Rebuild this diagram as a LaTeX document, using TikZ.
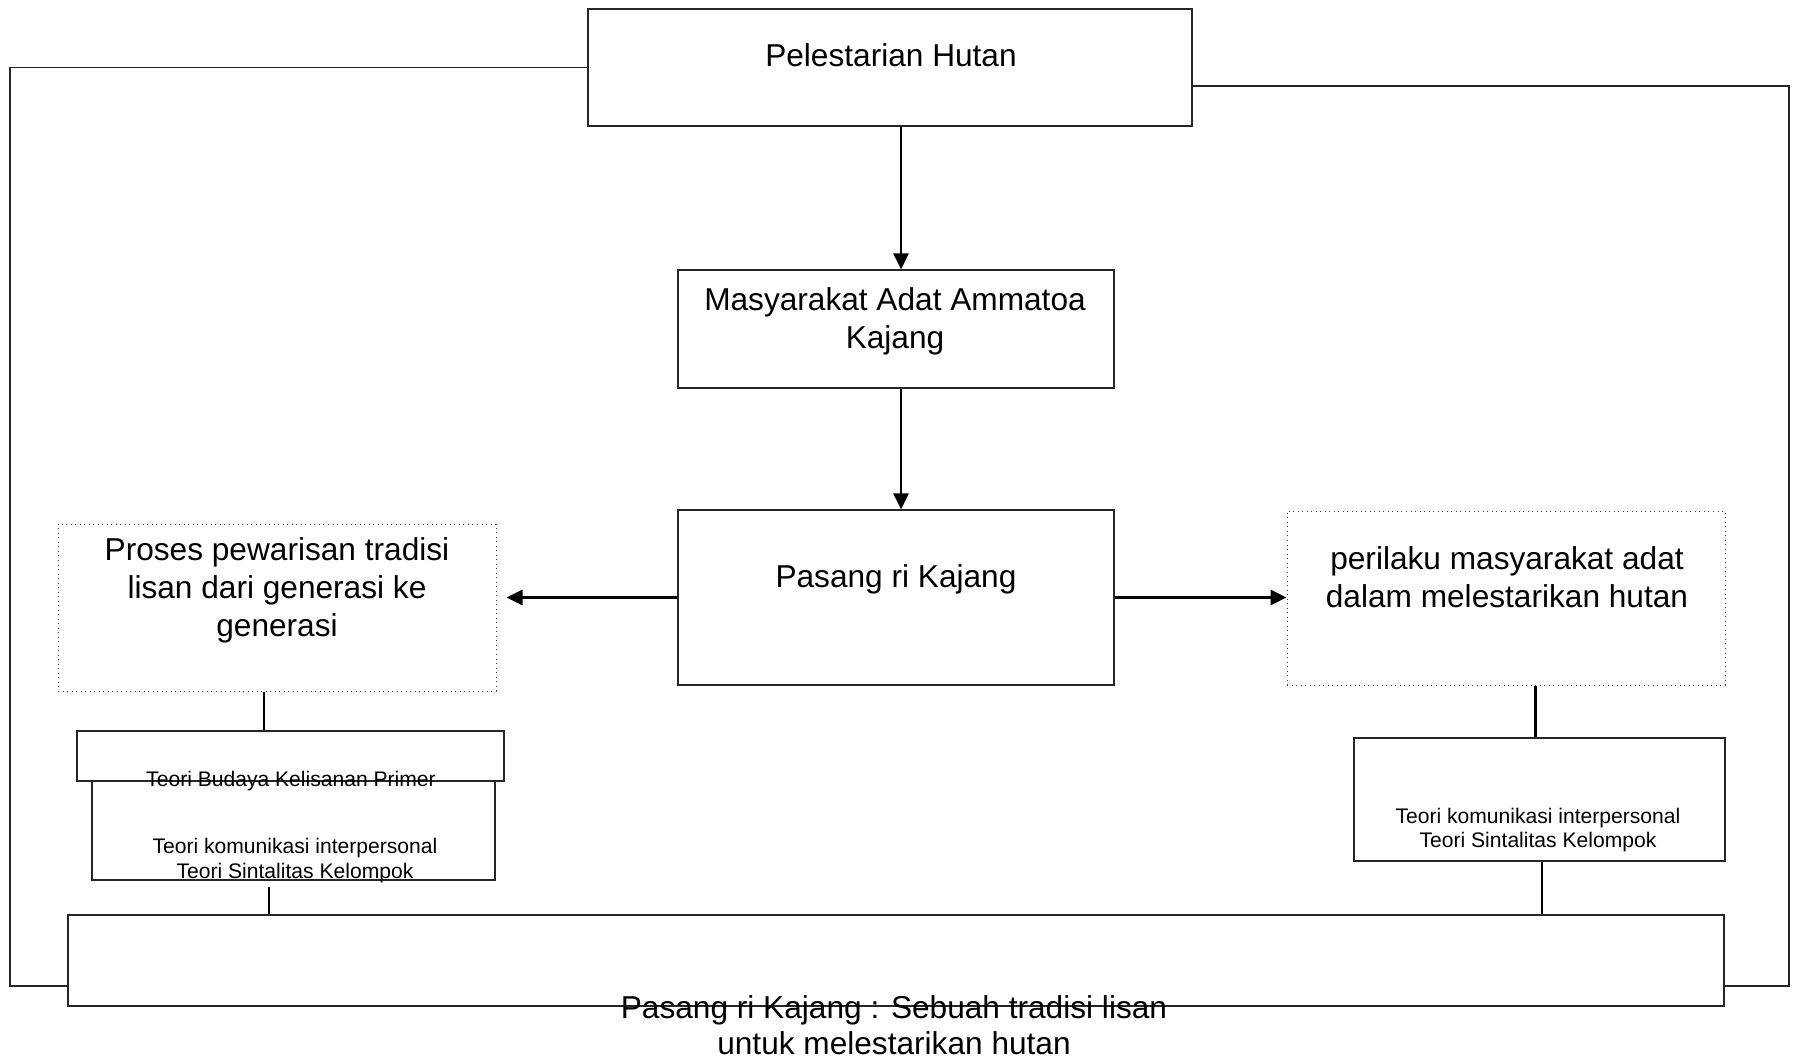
\documentclass[tikz,border=0pt]{standalone}
\usepackage{fontspec}
\setmainfont{Liberation Sans}
\usetikzlibrary{arrows.meta}

\begin{document}
\begin{tikzpicture}[
    x=0.1mm,
    y=-0.1mm,
    kotak/.style={draw=black!85,line width=0.12mm,inner sep=0pt},
    kotaktitik/.style={draw=black!75,line width=0.1mm,densely dotted,inner sep=0pt},
    teks/.style={align=center,inner sep=0pt,font=\fontsize{9}{10.8}\selectfont},
    tekskecil/.style={align=center,inner sep=0pt,font=\fontsize{6}{6.9}\selectfont},
    panah/.style={line width=0.28mm,-{Triangle[length=1.6mm,width=1.5mm]}},
    garis/.style={line width=0.28mm},
    bingkai/.style={draw=black!85,line width=0.12mm}
]
    \useasboundingbox (0,0) rectangle (1796,1060);
    \node[kotak,minimum width=60.4mm,minimum height=11.7mm] (hutan) at (890,67.5) {};
    \node[kotak,minimum width=43.6mm,minimum height=11.8mm] (masyarakat) at (896,329) {};
    \node[kotak,minimum width=43.6mm,minimum height=17.5mm] (pasang) at (896,597.5) {};
    \node[kotaktitik,minimum width=43.8mm,minimum height=16.7mm] (proses) at (277,607.5) {};
    \node[kotaktitik,minimum width=43.8mm,minimum height=17.4mm] (perilaku) at (1506,598) {};
    \node[kotak,minimum width=42.7mm,minimum height=5mm] (budaya) at (290.5,756) {};
    \node[kotak,minimum width=40.3mm,minimum height=9.9mm] (teorikiri) at (293.5,830.5) {};
    \node[kotak,minimum width=37.1mm,minimum height=12.3mm] (teorikanan) at (1539.5,799.5) {};
    \node[kotak,minimum width=165.6mm,minimum height=9.1mm] (bawah) at (896,960.5) {};

    \node[teks] (thutan) at (891,55) {Pelestarian Hutan};
    \node[teks] (tmasyarakat) at (895,321.5) {Masyarakat Adat Ammatoa\\Kajang};
    \node[teks] (tpasang) at (896,579.5) {Pasang ri Kajang};
    \node[teks] (tproses) at (277,590.5) {Proses pewarisan tradisi\\lisan dari generasi ke\\generasi};
    \node[teks] (tperilaku) at (1507,577) {perilaku masyarakat adat\\dalam melestarikan hutan};
    \node[tekskecil] (tbudaya) at (291,781) {Teori Budaya Kelisanan Primer};
    \node[tekskecil] (tteorikiri) at (295,860.5) {Teori komunikasi interpersonal\\Teori Sintalitas Kelompok};
    \node[tekskecil] (tteorikanan) at (1538,830) {Teori komunikasi interpersonal\\Teori Sintalitas Kelompok};
    \node[teks,font=\fontsize{9}{10.1}\selectfont] (tbawah) at (894,1025) {Pasang ri Kajang : Sebuah tradisi lisan\\untuk melestarikan hutan};

    \coordinate (poros) at (901,0);
    \draw[panah] (hutan.south -| poros) -- (masyarakat.north -| poros);
    \draw[panah] (masyarakat.south -| poros) -- (pasang.north -| poros);
    \draw[panah,shorten >=1mm] (pasang.west) -- (pasang.west -| proses.east);
    \draw[panah] (pasang.east) -- (pasang.east -| perilaku.west);

    \draw[garis] ([xshift=-1.3mm]proses.south) -- ([xshift=-1.3mm]proses.south |- budaya.north);
    \draw[garis] ([xshift=-2.45mm,yshift=-0.6mm]teorikiri.south) -- ([xshift=-2.45mm]teorikiri.south |- bawah.north);
    \draw[garis] ([xshift=2.97mm]perilaku.south) -- ([xshift=2.97mm]perilaku.south |- teorikanan.north);
    \draw[garis] ([xshift=0.25mm]teorikanan.south) -- ([xshift=0.25mm]teorikanan.south |- bawah.north);

    \coordinate (sudutkiri) at (10,986);
    \coordinate (sudutkanan) at (1789,986);
    \draw[bingkai] (hutan.west) -| (sudutkiri) -- (sudutkiri -| bawah.west);
    \draw[bingkai] ([yshift=-1.85mm]hutan.east) -| (sudutkanan) -- (sudutkanan -| bawah.east);
\end{tikzpicture}
\end{document}
